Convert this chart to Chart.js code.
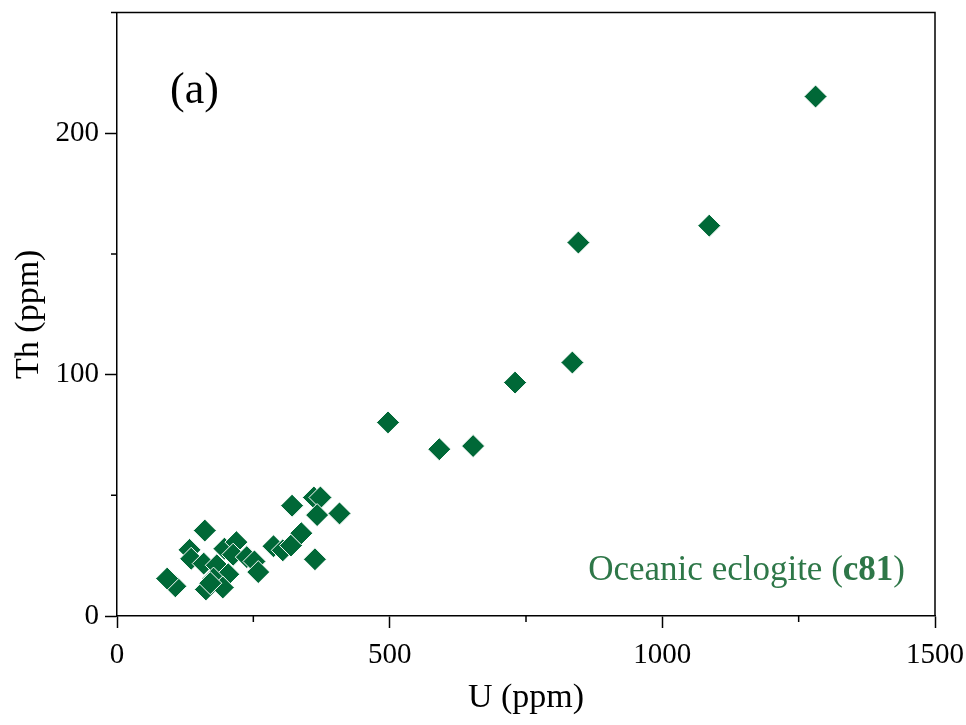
<!DOCTYPE html>
<html>
<head>
<meta charset="utf-8">
<script src="https://cdn.jsdelivr.net/npm/chart.js@4/dist/chart.umd.min.js"></script>
<style>
  html, body { margin: 0; padding: 0; background: #fff; }
  #wrap { width: 966px; height: 725px; }
</style>
</head>
<body>
<div id="wrap"><canvas id="chart" width="966" height="725"></canvas></div>
<script>
// U vs Th, oceanic eclogite (c81)
const uPpm = [107, 92, 161, 133, 136, 159, 183, 197, 219, 213, 238, 252, 259, 204, 177, 163, 194, 171,
  287, 304, 319, 338, 321, 361, 373, 367, 408, 363,
  497, 591, 653, 730, 835, 846, 1086, 1281];
const thPpm = [12.3, 15.5, 35.4, 27.4, 23.7, 21.7, 21, 27.9, 30.6, 25.4, 24.4, 22.6, 18.2, 17.3, 15.5, 11, 11.8, 13.6,
  28.9, 27.2, 29.2, 34.3, 45.7, 49.1, 49.1, 41.8, 42.5, 23.5,
  80.2, 69.1, 70.4, 96.7, 105, 154.7, 161.7, 215.2];
const xTicks = [0, 500, 1000, 1500];
const yTicks = [0, 100, 200];
const xMinor = [250, 750, 1250];
const yMinor = [50, 150, 250];

const serif = 'Liberation Serif';
const green = '#006837';

const points = uPpm.map((u, i) => ({ x: u, y: thPpm[i] }));

// frame, minor ticks, panel letter, sample label
const extras = {
  id: 'extras',
  afterDraw(chart) {
    const { ctx, chartArea: a, scales } = chart;
    ctx.save();
    ctx.strokeStyle = '#000';
    ctx.lineWidth = 1.5;
    ctx.beginPath();
    ctx.moveTo(a.left, a.top);
    ctx.lineTo(a.right, a.top);
    ctx.lineTo(a.right, a.bottom);
    xMinor.forEach((v) => {
      const px = scales.x.getPixelForValue(v);
      ctx.moveTo(px, a.bottom);
      ctx.lineTo(px, a.bottom + 6);
    });
    yMinor.forEach((v) => {
      const py = scales.y.getPixelForValue(v);
      ctx.moveTo(a.left, py);
      ctx.lineTo(a.left - 6, py);
    });
    ctx.stroke();

    ctx.fillStyle = '#000';
    ctx.font = '44px "' + serif + '"';
    ctx.textBaseline = 'alphabetic';
    ctx.textAlign = 'left';
    ctx.fillText('(a)', a.left + 53, a.top + 90);

    ctx.fillStyle = '#2e7748';
    const y = a.bottom - 36;
    const p1 = 'Oceanic eclogite (';
    const p2 = 'c81';
    const p3 = ')';
    ctx.font = '35px "' + serif + '"';
    const w1 = ctx.measureText(p1).width;
    const w3 = ctx.measureText(p3).width;
    ctx.font = 'bold 35px "' + serif + '"';
    const w2 = ctx.measureText(p2).width;
    let x = a.right - 30 - (w1 + w2 + w3);
    ctx.font = '35px "' + serif + '"';
    ctx.fillText(p1, x, y);
    x += w1;
    ctx.font = 'bold 35px "' + serif + '"';
    ctx.fillText(p2, x, y);
    x += w2;
    ctx.font = '35px "' + serif + '"';
    ctx.fillText(p3, x, y);
    ctx.restore();
  },
};

new Chart(document.getElementById('chart').getContext('2d'), {
  type: 'scatter',
  data: {
    datasets: [
      {
        data: points,
        pointStyle: 'rectRot',
        pointRadius: 11.5,
        pointHoverRadius: 11.5,
        backgroundColor: green,
        borderColor: '#fff',
        borderWidth: 1,
      },
    ],
  },
  options: {
    responsive: false,
    animation: false,
    events: [],
    layout: { padding: { top: 5, right: 31, left: 0, bottom: 0 } },
    plugins: { legend: { display: false }, tooltip: { enabled: false } },
    scales: {
      x: {
        type: 'linear',
        min: 0,
        max: 1500,
        afterFit: (s) => {
          s.height = 109;
          s.paddingLeft = 0;
          s.paddingRight = 0;
        },
        border: { color: '#000', width: 1.5 },
        grid: {
          drawOnChartArea: false,
          tickLength: 12,
          tickWidth: 1.5,
          tickColor: (c) => (c.tick && xTicks.includes(c.tick.value) ? '#000' : 'rgba(0,0,0,0)'),
        },
        ticks: {
          stepSize: 250,
          autoSkip: false,
          maxRotation: 0,
          padding: 10,
          color: '#000',
          font: { family: serif, size: 29 },
          callback: (v) => (xTicks.includes(v) ? String(v) : ''),
        },
        title: {
          display: true,
          text: 'U (ppm)',
          color: '#000',
          font: { family: serif, size: 34 },
          padding: { top: 0, bottom: 7 },
        },
      },
      y: {
        type: 'linear',
        min: 0,
        max: 250,
        afterFit: (s) => {
          s.width = 117;
          s.paddingTop = 0;
          s.paddingBottom = 0;
        },
        border: { color: '#000', width: 1.5 },
        grid: {
          drawOnChartArea: false,
          tickLength: 12,
          tickWidth: 1.5,
          tickColor: (c) => (c.tick && yTicks.includes(c.tick.value) ? '#000' : 'rgba(0,0,0,0)'),
        },
        ticks: {
          stepSize: 50,
          autoSkip: false,
          padding: 6,
          color: '#000',
          font: { family: serif, size: 29 },
          callback: (v) => (yTicks.includes(v) ? String(v) : ''),
        },
        title: {
          display: true,
          text: 'Th (ppm)',
          color: '#000',
          font: { family: serif, size: 34 },
          padding: { top: 9, bottom: 0 },
        },
      },
    },
  },
  plugins: [extras],
});
</script>
</body>
</html>
